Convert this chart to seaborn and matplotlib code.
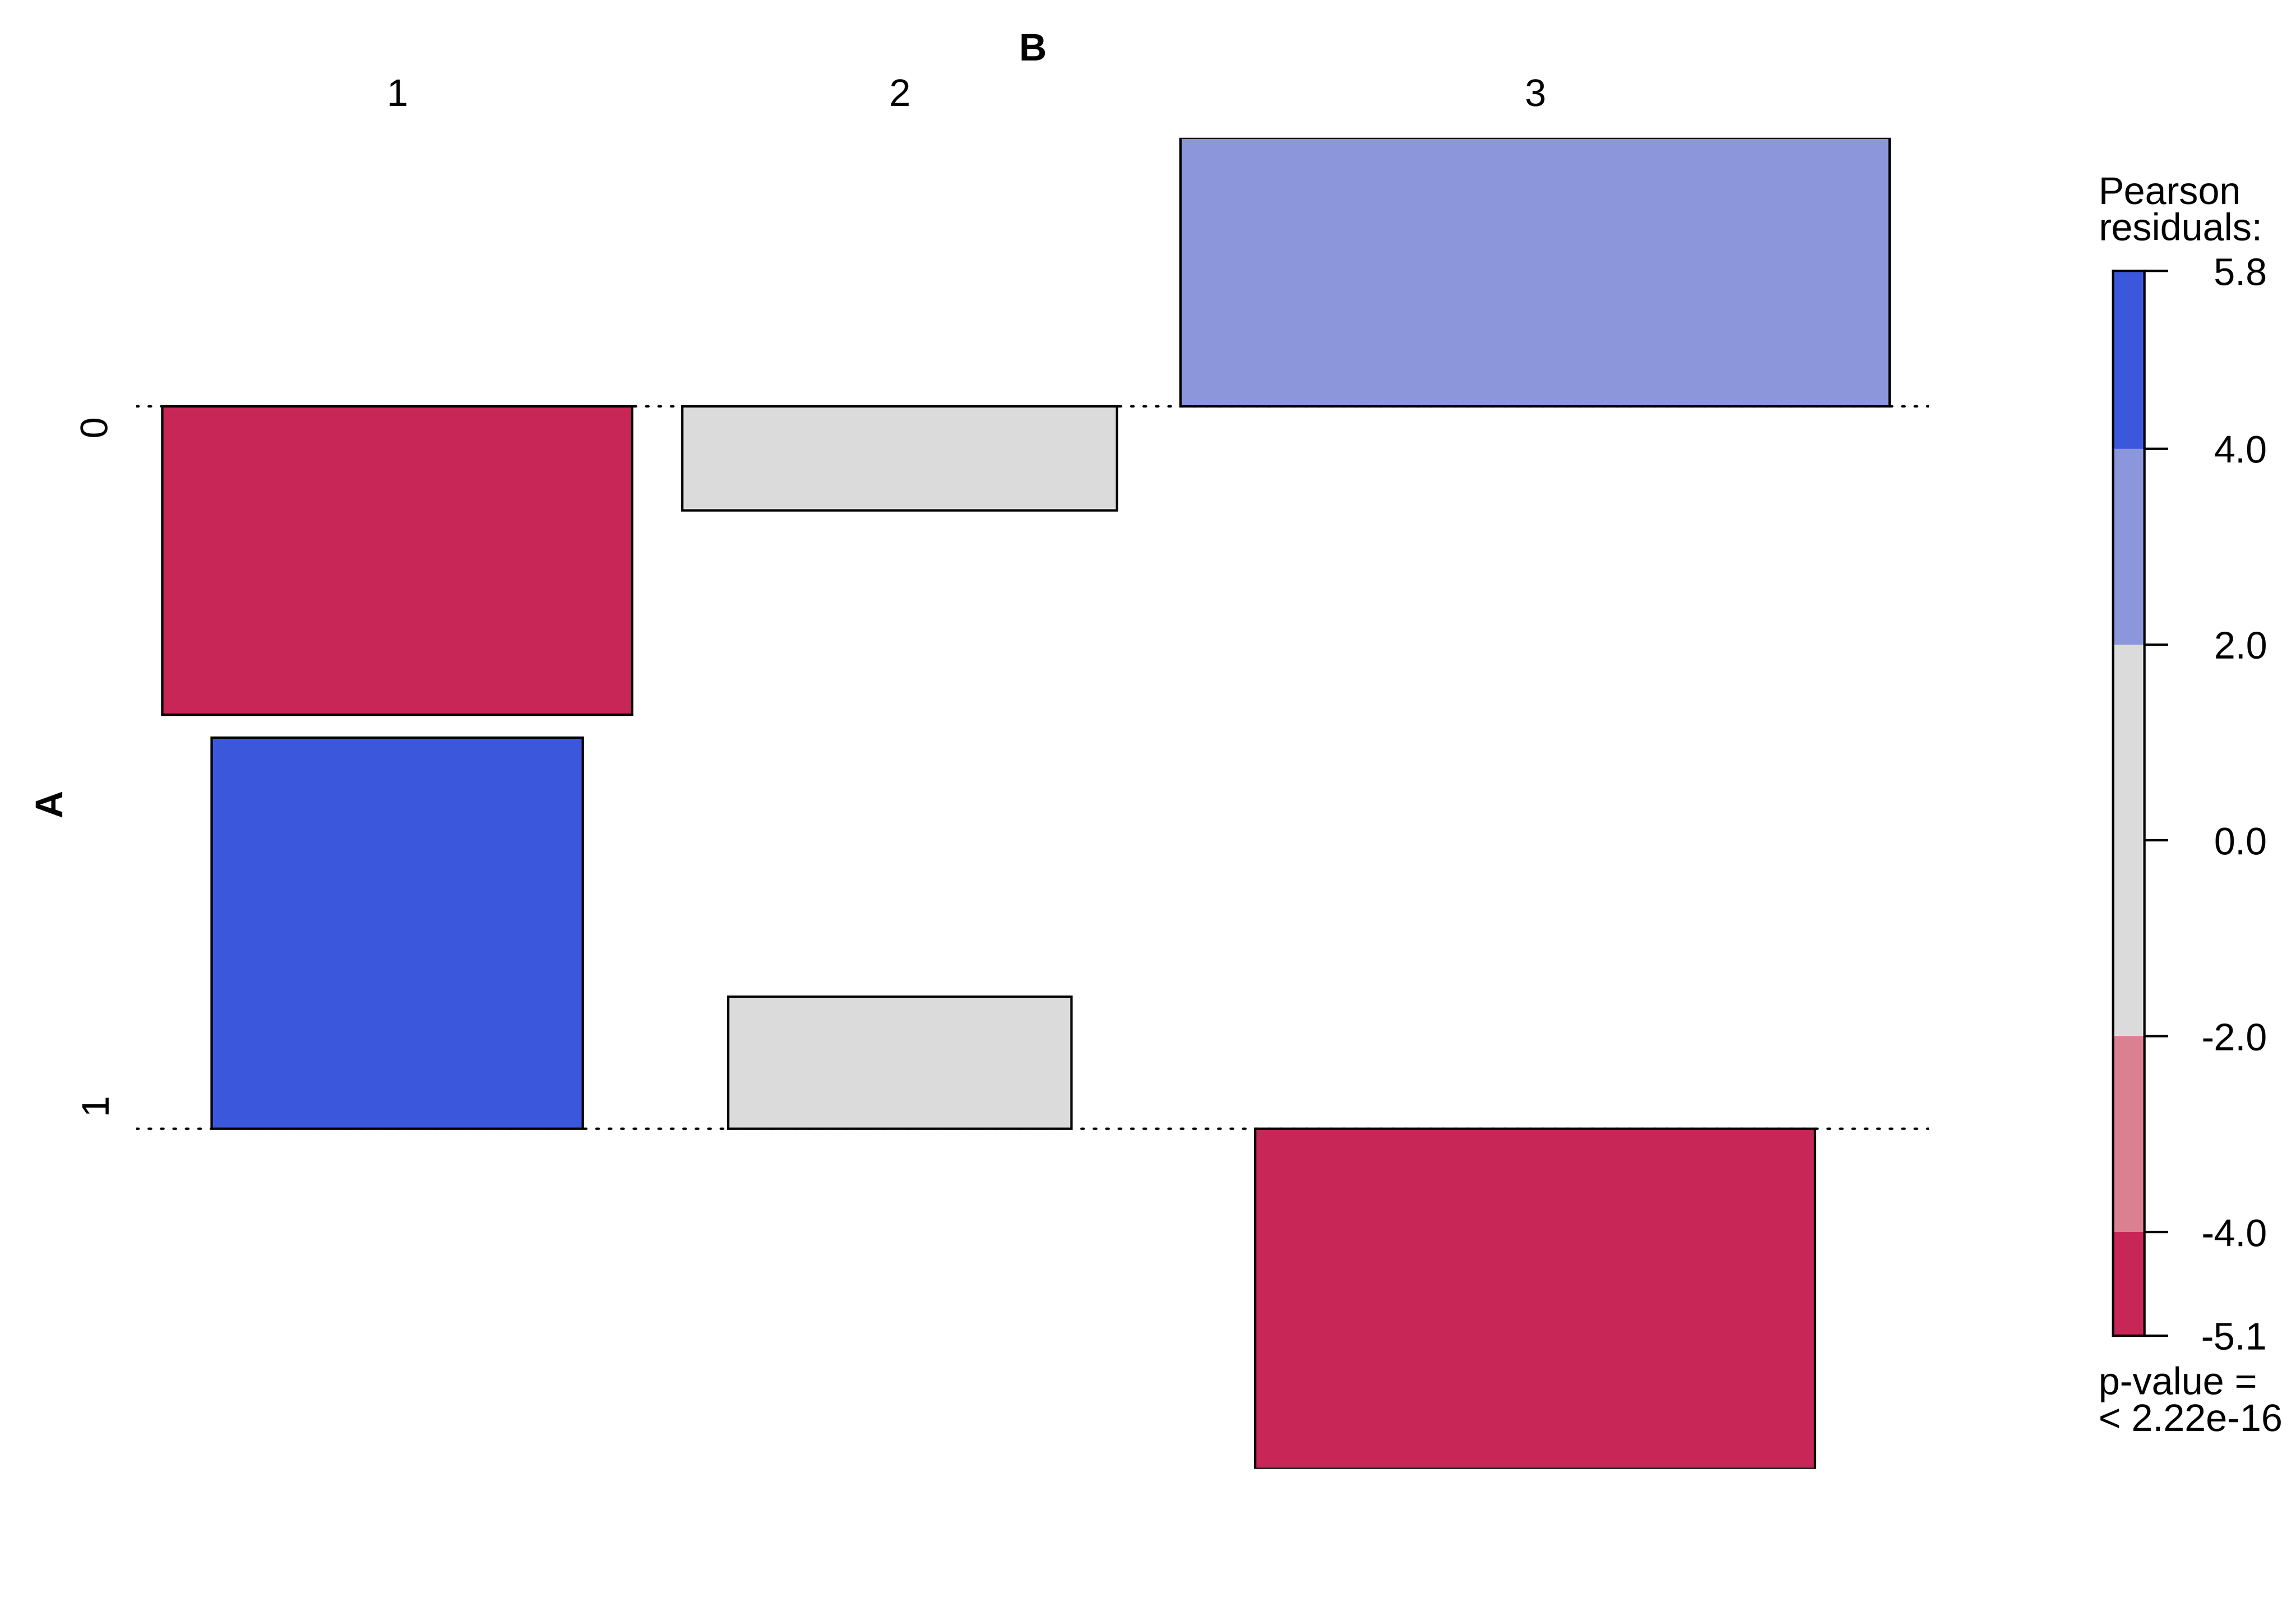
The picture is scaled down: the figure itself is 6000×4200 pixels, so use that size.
'''
association plot of A x B with shaded pearson residuals
'''

import numpy as np
import matplotlib
matplotlib.use('Agg')
import matplotlib.pyplot as plt
import matplotlib.transforms as mtransforms
import seaborn as sns

# contingency table, rows = A, columns = B
a_levels = ['0', '1']
b_levels = ['1', '2', '3']
observed = np.array([[93, 110, 413],
                     [149, 97, 138]])

# residual shading: |r| >= 2 light, |r| >= 4 full
cut_light, cut_full = 2, 4
pos_colors = ['#8B96DB', '#3B58DC']
neg_colors = ['#DB8090', '#C72657']
neutral = '#DBDBDB'

sns.set_theme(style='white')
plt.rcParams['font.family'] = ['Liberation Sans', 'DejaVu Sans']
plt.rcParams['font.size'] = 12
plt.rcParams['text.color'] = 'black'

W, H, DPI = 6000, 4200, 600
fig = plt.figure(figsize=(W / DPI, H / DPI), dpi=DPI)


def shade(r):
    a = abs(r)
    cols = pos_colors if r > 0 else neg_colors
    if a >= cut_full:
        return cols[1]
    if a >= cut_light:
        return cols[0]
    return neutral


n = observed.sum()
expected = np.outer(observed.sum(1), observed.sum(0)) / n
resid = (observed - expected) / np.sqrt(expected)
widths = np.sqrt(expected)
chisq = (resid ** 2).sum()
df = (observed.shape[0] - 1) * (observed.shape[1] - 1)
pval = np.exp(-chisq / 2)  # chi-square survival, df = 2

# layout of the cells
xscale = 0.9
slot = widths.max(axis=0) / xscale
x_edges = np.concatenate([[0], np.cumsum(slot)])
x_centers = (x_edges[:-1] + x_edges[1:]) / 2
up = np.maximum(resid.max(1), 0)
down = np.maximum(-resid.min(1), 0)

left_px, top_px, right_px, bottom_px = 356, 360, 5041, 3839
gap_px = 60
ax_h_px = bottom_px - top_px
gap = gap_px * (up + down).sum() / (ax_h_px - gap_px * (len(a_levels) - 1))

tops, bases, bottoms = [], [], []
y = 0.0
for i in range(len(a_levels)):
    tops.append(y)
    bases.append(y - up[i])
    bottoms.append(y - up[i] - down[i])
    y = bottoms[-1] - gap

ax = fig.add_axes([left_px / W, 1 - bottom_px / H,
                   (right_px - left_px) / W, ax_h_px / H])
for i in range(len(a_levels)):
    ax.axhline(bases[i], color='black', lw=0.75, ls=(0, (1, 4.2)),
               dash_capstyle='round', zorder=1)
    ax.bar(x_centers, resid[i], width=widths[i], bottom=bases[i],
           color=[shade(r) for r in resid[i]], edgecolor='black',
           linewidth=0.75, zorder=2)
ax.set_xlim(0, x_edges[-1])
ax.set_ylim(bottoms[-1], 0)
ax.axis('off')

# labels of B across the top
tr_top = mtransforms.blended_transform_factory(ax.transData, fig.transFigure)
for c, lab in zip(x_centers, b_levels):
    ax.text(c, 1 - 277 / H, lab, transform=tr_top, ha='center', va='baseline')
tr_top_ax = mtransforms.blended_transform_factory(ax.transAxes, fig.transFigure)
ax.text(0.5, 1 - 158 / H, 'B', transform=tr_top_ax, ha='center',
        va='baseline', fontweight='bold')

# labels of A down the left
tr_left = mtransforms.blended_transform_factory(fig.transFigure, ax.transData)
for i, lab in enumerate(a_levels):
    ax.text(277 / W, (tops[i] + bottoms[i]) / 2, lab, transform=tr_left,
            rotation=90, rotation_mode='anchor', ha='center', va='baseline')
tr_left_ax = mtransforms.blended_transform_factory(fig.transFigure, ax.transAxes)
ax.text(162 / W, 0.5, 'A', transform=tr_left_ax, rotation=90,
        rotation_mode='anchor', ha='center', va='baseline', fontweight='bold')

# legend bar
rmin, rmax = resid.min(), resid.max()
cax = fig.add_axes([5522 / W, 1 - 3491 / H, 82 / W, (3491 - 708) / H])
band_edges = [rmin, -cut_full, -cut_light, cut_light, cut_full, rmax]
band_cols = [neg_colors[1], neg_colors[0], neutral, pos_colors[0], pos_colors[1]]
for lo, hi, c in zip(band_edges[:-1], band_edges[1:], band_cols):
    lo, hi = max(lo, rmin), min(hi, rmax)
    if hi > lo:
        cax.bar(0, hi - lo, bottom=lo, width=1, color=c, linewidth=0)
cax.set_xlim(-0.5, 0.5)
cax.set_ylim(rmin, rmax)
cax.set_xticks([])
ticks = [rmin, -cut_full, -cut_light, 0, cut_light, cut_full, rmax]
cax.set_yticks(ticks, ['%.1f' % t for t in ticks])
cax.yaxis.tick_right()
cax.tick_params(axis='y', right=True, left=False, length=7.44, width=0.75,
                pad=31, labelsize=12, color='black', labelcolor='black')
for t in cax.get_yticklabels():
    t.set_ha('right')
for s in cax.spines.values():
    s.set_visible(True)
    s.set_color('black')
    s.set_linewidth(0.75)

fig.text(5484 / W, 1 - 533 / H, 'Pearson', va='baseline')
fig.text(5484 / W, 1 - 628 / H, 'residuals:', va='baseline')
fig.text(5484 / W, 1 - 3644 / H, 'p-value =', va='baseline')
ptxt = '< 2.22e-16' if pval < 2.22e-16 else '%.2g' % pval
fig.text(5484 / W, 1 - 3740 / H, ptxt, va='baseline')

fig.savefig('out.png', dpi=DPI, facecolor='white')
